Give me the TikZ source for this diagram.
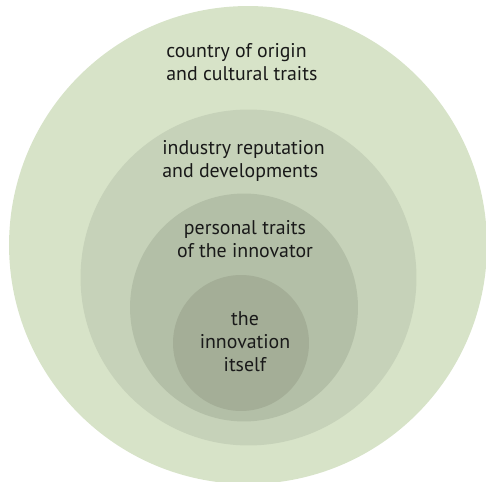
\documentclass[tikz,border=0pt]{standalone}
\usepackage{fontspec}
\setmainfont{PT Sans}
\usepackage{tikz}
\definecolor{ringA}{HTML}{D7E3C8}
\definecolor{ringB}{HTML}{C6D2B9}
\definecolor{ringC}{HTML}{B3BFA7}
\definecolor{ringD}{HTML}{A4AE97}
\tikzset{ring/.style={circle,inner sep=0pt},
  lbl/.style={font=\fontsize{11.3}{13}\selectfont,text=black!90,inner sep=0pt}}

\begin{document}
\begin{tikzpicture}[x=0.02cm,y=-0.02cm]
      \useasboundingbox (0,0) rectangle (486,482);
      \clip (0,0) rectangle (486,482);
      % nested rings, outermost first
      \node[ring,fill=ringA,minimum size=9.56cm] (country) at (248,245) {};
      \node[ring,fill=ringB,minimum size=6.72cm] (industry) at (248.5,277.5) {};
      \node[ring,fill=ringC,minimum size=4.56cm] (person) at (244,307.5) {};
      \node[ring,fill=ringD,minimum size=2.72cm] (innov) at (241,343) {};
      % labels
      \node[lbl,align=left,anchor=west] (countrytxt) at (166,62) {country of origin\\and cultural traits};
      \node[lbl,align=left,anchor=west] (industrytxt) at (162,161) {industry reputation\\and developments};
      \node[lbl,align=center] (persontxt) at (245,239) {personal traits\\of the innovator};
      \node[lbl,align=center] (innovtxt) at (245,342) {the\\innovation\\itself};
    \end{tikzpicture}
\end{document}
